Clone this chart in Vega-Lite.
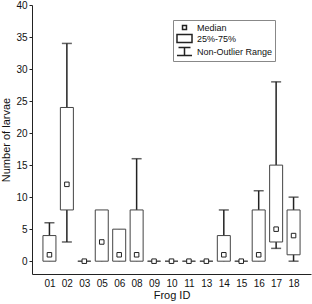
{
  "$schema": "https://vega.github.io/schema/vega-lite/v6.json",
  "autosize": "none",
  "width": 279,
  "height": 269,
  "padding": {"left": 32, "top": 5, "right": 1, "bottom": 30},
  "background": "white",
  "config": {
    "view": {"stroke": null},
    "font": "Liberation Sans",
    "axis": {"labelFont": "Liberation Sans", "titleFont": "Liberation Sans", "labelColor": "#111", "titleColor": "#111", "domainColor": "#222", "tickColor": "#222", "grid": false, "titleFontWeight": "normal"},
    "axisY": {"tickSize": 3, "labelFontSize": 10, "labelPadding": 2, "titleFontSize": 11, "titlePadding": 4},
    "legend": {"labelFont": "Liberation Sans"}
  },
  "data": {
    "values": [
      {"id": "01", "lo": 0, "q1": 0, "med": 1, "q3": 4, "hi": 6},
      {"id": "02", "lo": 3, "q1": 8, "med": 12, "q3": 24, "hi": 34},
      {"id": "03", "lo": 0, "q1": 0, "med": 0, "q3": 0, "hi": 0},
      {"id": "05", "lo": 0, "q1": 0, "med": 3, "q3": 8, "hi": 8},
      {"id": "06", "lo": 0, "q1": 0, "med": 1, "q3": 5, "hi": 5},
      {"id": "08", "lo": 0, "q1": 0, "med": 1, "q3": 8, "hi": 16},
      {"id": "09", "lo": 0, "q1": 0, "med": 0, "q3": 0, "hi": 0},
      {"id": "10", "lo": 0, "q1": 0, "med": 0, "q3": 0, "hi": 0},
      {"id": "11", "lo": 0, "q1": 0, "med": 0, "q3": 0, "hi": 0},
      {"id": "13", "lo": 0, "q1": 0, "med": 0, "q3": 0, "hi": 0},
      {"id": "14", "lo": 0, "q1": 0, "med": 1, "q3": 4, "hi": 8},
      {"id": "15", "lo": 0, "q1": 0, "med": 0, "q3": 0, "hi": 0},
      {"id": "16", "lo": 0, "q1": 0, "med": 1, "q3": 8, "hi": 11},
      {"id": "17", "lo": 2, "q1": 3, "med": 5, "q3": 15, "hi": 28},
      {"id": "18", "lo": 0, "q1": 1, "med": 4, "q3": 8, "hi": 10}
    ]
  },
  "encoding": {
    "x": {
      "field": "id", "type": "ordinal",
      "scale": {"type": "point", "padding": 1.5},
      "axis": {"title": "Frog ID", "labelAngle": 0, "ticks": false, "labelFontSize": 10, "labelPadding": 4, "titleFontSize": 11, "titlePadding": 1}
    }
  },
  "layer": [
    {
      "mark": {"type": "rule", "color": "#222", "strokeWidth": 1.5},
      "encoding": {
        "y": {"field": "lo", "type": "quantitative", "scale": {"domain": [-2, 40], "nice": false, "zero": false},
          "axis": {"title": "Number of larvae", "values": [0, 5, 10, 15, 20, 25, 30, 35, 40]}},
        "y2": {"field": "hi"}
      }
    },
    {
      "mark": {"type": "bar", "width": 13, "fill": "white", "stroke": "#444", "strokeWidth": 1},
      "encoding": {
        "y": {"field": "q1", "type": "quantitative", "axis": {"title": "Number of larvae", "values": [0, 5, 10, 15, 20, 25, 30, 35, 40]}},
        "y2": {"field": "q3"}
      }
    },
    {
      "transform": [{"filter": "datum.hi > datum.q3"}],
      "mark": {"type": "tick", "color": "#222", "size": 10, "thickness": 1.5},
      "encoding": {"y": {"field": "hi", "type": "quantitative", "axis": {"title": "Number of larvae", "values": [0, 5, 10, 15, 20, 25, 30, 35, 40]}}}
    },
    {
      "transform": [{"filter": "datum.lo < datum.q1"}],
      "mark": {"type": "tick", "color": "#222", "size": 10, "thickness": 1.5},
      "encoding": {"y": {"field": "lo", "type": "quantitative", "axis": {"title": "Number of larvae", "values": [0, 5, 10, 15, 20, 25, 30, 35, 40]}}}
    },
    {
      "mark": {"type": "point", "filled": true, "fill": "white", "stroke": "#222", "strokeWidth": 1, "size": 105, "opacity": 1},
      "encoding": {
        "y": {"field": "med", "type": "quantitative", "axis": {"title": "Number of larvae", "values": [0, 5, 10, 15, 20, 25, 30, 35, 40]}},
        "shape": {
          "datum": "Median",
          "scale": {
            "domain": ["Median", "25%-75%", "Non-Outlier Range"],
            "range": ["M-0.44,-0.44H0.44V0.44H-0.44Z", "M-1.67,-0.89H1.67V0.89H-1.67Z", "M-1.33,-0.89H1.33M0,-0.89V0.89M-1.67,0.89H1.67"]
          },
          "legend": {
            "title": null, "orient": "none", "legendX": 141, "legendY": 15,
            "symbolSize": 81, "symbolOffset": 4, "labelOffset": 7, "labelFontSize": 9, "labelColor": "#111",
            "padding": 2, "rowPadding": -2, "strokeColor": "#888", "fillColor": "white",
            "encode": {
              "symbols": {"update": {"size": {"value": 81}, "stroke": {"value": "#222"}, "fill": {"value": "white"}, "strokeWidth": {"value": 1}, "opacity": {"value": 1}}}
            }
          }
        }
      }
    }
  ]
}
